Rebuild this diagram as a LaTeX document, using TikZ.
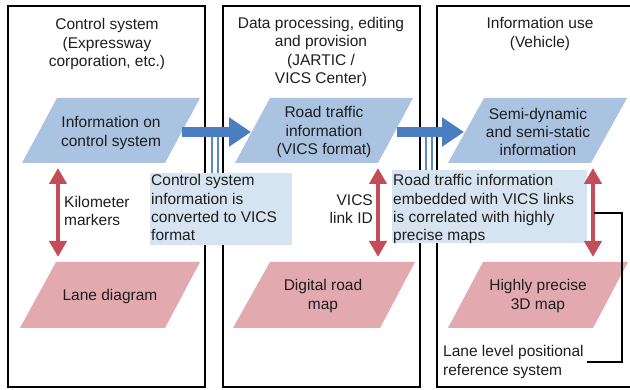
\documentclass[tikz,border=0pt]{standalone}
\usepackage{fontspec}
\setmainfont{Liberation Sans}
\usetikzlibrary{arrows.meta}
\definecolor{pgblue}{HTML}{A9C3E0}
\definecolor{callblue}{HTML}{D6E3F0}
\definecolor{pgpink}{HTML}{E2AAAF}
\definecolor{redarr}{HTML}{C24E5A}
\definecolor{bluearr}{HTML}{4A7EC0}
\definecolor{linkblue}{HTML}{5A88C6}
\definecolor{txt}{HTML}{1E1E1E}
\begin{document}
\begin{tikzpicture}[x=1pt,y=-1pt,
  lbl/.style={font=\fontsize{15.5}{18.3}\selectfont, text=txt, align=center, inner sep=0pt},
  lbll/.style={lbl, align=left},
  lblr/.style={lbl, align=right},
  panel/.style={draw=black, line width=2pt},
  callout/.style={fill=callblue, inner sep=0pt, anchor=north west},
  bluepg/.style={fill=pgblue},
  pinkpg/.style={fill=pgpink},
  redarrow/.style={draw=redarr, line width=4pt,
    {Triangle[length=16pt,width=17pt]}-{Triangle[length=16pt,width=17pt]}},
  bluearrow/.style={draw=bluearr, line width=10pt, -{Triangle[length=22pt,width=28pt]}},
  link/.style={draw=linkblue, line width=1.8pt, double=white, double distance=4.5pt},
  bracket/.style={draw=black, line width=1.4pt}
]
\useasboundingbox (0,0) rectangle (630,390);
\fill[white] (0,0) rectangle (630,390);

% panels
\draw[panel] (8,6) rectangle (205,387);
\draw[panel] (223,6) rectangle (420,387);
\draw[panel] (640,6) -- (437,6) -- (437,387) -- (640,387);

% titles
\node[lbl] (t1) at (107,44) {Control system\\(Expressway\\corporation, etc.)};
\node[lbl] (t2) at (321,52) {Data processing, editing\\and provision\\(JARTIC /\\VICS Center)};
\node[lbl] (t3) at (540,34) {Information use\\(Vehicle)};

% callout boxes
\node[callout, minimum width=142pt, minimum height=72pt] (c1) at (150,173) {};
\node[lbll, anchor=north west] (c1t) at (151,174.5) {Control system\\information is\\converted to VICS\\format};
\node[callout, minimum width=195pt, minimum height=73pt] (c2) at (392,170) {};
\node[lbll, anchor=north west] (c2t) at (393,174.5) {Road traffic information\\embedded with VICS links\\is correlated with highly\\precise maps};

% blue parallelograms
\fill[bluepg] (22,163) -- (165,163) -- (200,98) -- (57,98) -- cycle;
\fill[bluepg] (235,163) -- (378,163) -- (413,98) -- (270,98) -- cycle;
\fill[bluepg] (448,163) -- (591,163) -- (627,98) -- (484,98) -- cycle;
\node[lbl] (p1) at (111,133) {Information on\\control system};
\node[lbl] (p2) at (324,132) {Road traffic\\information\\(VICS format)};
\node[lbl] (p3) at (538,132) {Semi-dynamic\\and semi-static\\information};

% pink parallelograms
\fill[pinkpg] (20,328) -- (165,328) -- (200,262) -- (56,262) -- cycle;
\fill[pinkpg] (233,328) -- (380,328) -- (415,262) -- (270,262) -- cycle;
\fill[pinkpg] (448,328) -- (593,328) -- (628,262) -- (483,262) -- cycle;
\node[lbl] (l1) at (110,296) {Lane diagram};
\node[lbl] (l2) at (323,296) {Digital road\\map};
\node[lbl] (l3) at (538,296) {Highly precise\\3D map};

% red double arrows
\coordinate (r1a) at (58,168); \coordinate (r1b) at (58,257);
\coordinate (r2a) at (378,168); \coordinate (r2b) at (378,257);
\coordinate (r3a) at (593,168); \coordinate (r3b) at (593,257);
\draw[redarrow] (r1a) -- (r1b);
\draw[redarrow] (r2a) -- (r2b);
\draw[redarrow] (r3a) -- (r3b);
\node[lbll, anchor=west] (km) at (64,211) {Kilometer\\markers};
\node[lblr, anchor=east] (vl) at (373,209) {VICS\\link ID};

% links from callouts to blue arrows
\coordinate (k1) at (215,136);
\coordinate (k2) at (429,136);
\draw[link] (k1) -- (c1.north -| k1);
\draw[link] (k2) -- (c2.north -| k2);

% blue arrows
\coordinate (b1a) at (182,132); \coordinate (b1b) at (251,132);
\coordinate (b2a) at (397,132); \coordinate (b2b) at (464,132);
\draw[bluearrow] (b1a) -- (b1b);
\draw[bluearrow] (b2a) -- (b2b);

% lane level bracket
\node[lbll, anchor=west] (lane) at (443,362) {Lane level positional\\reference system};
\coordinate (brs) at (594,213);
\draw[bracket] (brs) -| (622,290) |- ([xshift=3pt]lane.east);
\end{tikzpicture}
\end{document}
